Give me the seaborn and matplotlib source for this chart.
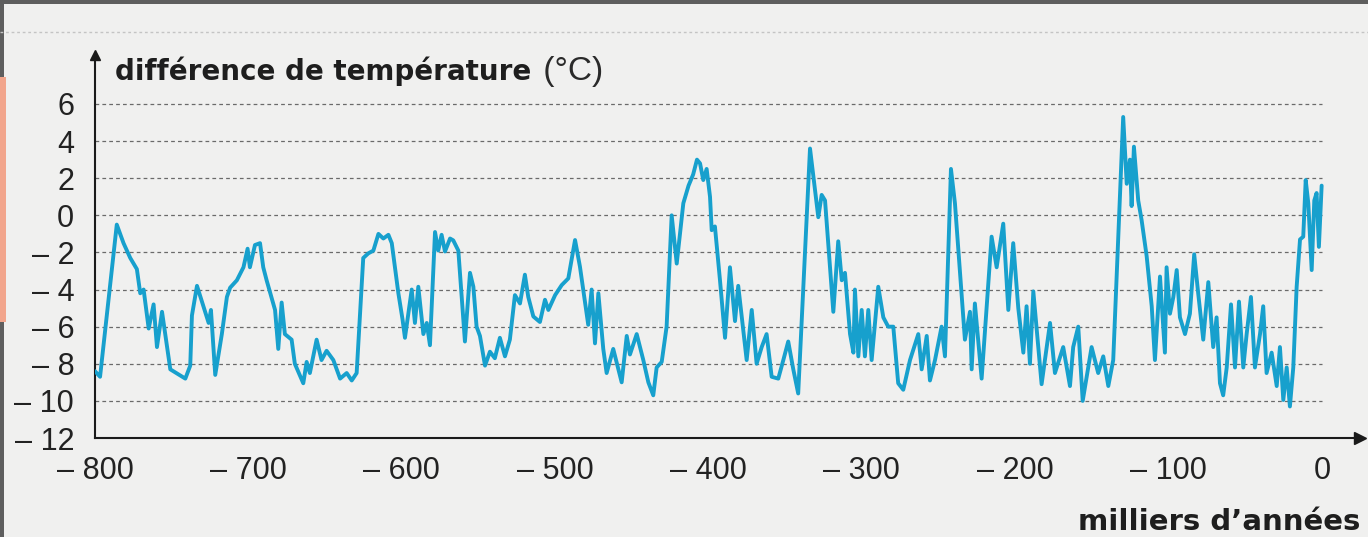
import numpy as np
import pandas as pd
import matplotlib
matplotlib.use("Agg")
import matplotlib.pyplot as plt
import seaborn as sns
from matplotlib.patches import Rectangle
from matplotlib.lines import Line2D

# ---- data ----
years = [-800, -796.7, -785.8, -781.4, -777, -772.7, -770.5, -768.3, -765, -761.8, -759.6, -756.3,
         -750.9, -741.1, -737.9, -736.8, -733.5, -725.9, -724.4, -721.6, -717.3, -714, -711.9,
         -707.5, -703.2, -700.5, -699, -695.7, -692.4, -690.3, -688.1, -682.6, -680.5, -678.3,
         -676.2, -671.8, -669.7, -664.2, -662, -659.9, -655.5, -652.3, -649, -644.6, -640.2,
         -635.9, -632.6, -629.4, -625.1, -621.8, -618.5, -615.2, -612, -608.7, -606.5, -602.2,
         -599.5, -597.9, -593.5, -591.4, -589.2, -585.9, -583.7, -581.6, -578.3, -576.2, -574,
         -571.8, -568.5, -566.4, -563.1, -558.8, -555.5, -553.3, -551.2, -549, -545.7, -542.5,
         -539.3, -536, -532.7, -529.5, -526.2, -522.9, -519.7, -517.5, -514.2, -509.9, -506.6,
         -504.4, -500, -495.7, -491.4, -487, -483.8, -478.4, -476.2, -474, -471.8, -468.6,
         -466.4, -462.1, -456.6, -453.3, -451.2, -446.8, -442.5, -439.2, -436, -433.8, -430.5,
         -427.3, -424, -420.7, -416.4, -413, -410, -407.5, -405.5, -403.4, -401.2, -399, -397.9,
         -395.8, -392.5, -389.2, -386, -382.7, -380.6, -377.3, -375.1, -371.8, -368.6, -365.3,
         -362.1, -358.8, -354.5, -351.2, -348, -344.7, -341.5, -333.8, -330.6, -328.4, -326.2,
         -324, -318.6, -315.4, -313.1, -311, -307.7, -305.5, -304.5, -302.3, -300.1, -298,
         -295.8, -293.6, -289.3, -286, -282.8, -279.5, -276.3, -273, -268.6, -263.2, -261,
         -257.7, -255.6, -252.3, -248, -245.8, -241.9, -239.3, -232.8, -229.5, -228.4, -226.3,
         -221.9, -215.4, -212.1, -207.8, -204.5, -201.3, -198, -194.7, -192.6, -190.4, -188.2,
         -182.8, -177.3, -174.1, -168.7, -164.3, -162.2, -158.9, -156, -150.2, -145.9, -142.6,
         -139.3, -136.1, -129.6, -127.3, -125.2, -124.1, -122.6, -119.8, -117.6, -114.3, -111,
         -108.9, -105.6, -102.4, -101.3, -99.1, -96.9, -94.7, -92.6, -89.3, -86.1, -83.3, -80.7,
         -77.4, -74.1, -70.9, -68.7, -66.5, -64.4, -62.1, -59.3, -56.7, -54.1, -51.3, -49.1,
         -46.3, -43.7, -40.4, -38.3, -36.1, -32.8, -29.5, -27.4, -25.2, -23, -20.9, -18.7,
         -16.5, -14.3, -12.2, -10.6, -8.9, -6.7, -5, -3.5, -2, -0.2]
temps = [-8.4, -8.7, -0.5, -1.5, -2.3, -2.9, -4.2, -4.0, -6.1, -4.8, -7.1, -5.2,
         -8.3, -8.8, -8.1, -5.4, -3.8, -5.8, -5.1, -8.6, -6.4, -4.4, -3.9,
         -3.5, -2.8, -1.8, -2.8, -1.6, -1.5, -2.8, -3.5, -5.1, -7.2, -4.7,
         -6.4, -6.7, -8.0, -9.05, -7.9, -8.5, -6.7, -7.8, -7.3, -7.8, -8.8,
         -8.5, -8.9, -8.5, -2.3, -2.05, -1.9, -1.0, -1.25, -1.05, -1.5, -4.2,
         -5.6, -6.6, -4.0, -5.8, -3.85, -6.4, -5.8, -7.0, -0.9, -1.9, -1.05,
         -1.95, -1.25, -1.35, -1.9, -6.8, -3.1, -3.85, -6.0, -6.5, -8.1, -7.35,
         -7.7, -6.6, -7.6, -6.7, -4.3, -4.75, -3.2, -4.4, -5.45, -5.75, -4.55,
         -5.1, -4.3, -3.76, -3.4, -1.33, -2.77, -5.9, -4.0, -6.9, -4.2, -7.2,
         -8.5, -7.2, -9.0, -6.5, -7.5, -6.4, -7.8, -9.0, -9.7, -8.2, -7.9,
         -6.0, 0.0, -2.6, 0.65, 1.6, 2.2, 3.0, 2.8, 1.9, 2.5, 1.0, -0.8,
         -0.6, -3.5, -6.6, -2.8, -5.7, -3.8, -6.2, -7.8, -5.1, -8.0, -7.1,
         -6.4, -8.7, -8.8, -7.8, -6.8, -8.3, -9.6, 3.6, 1.4, -0.1, 1.1,
         0.8, -5.2, -1.4, -3.5, -3.1, -6.4, -7.4, -4.0, -7.6, -5.1, -7.6,
         -5.1, -7.8, -3.85, -5.5, -6.0, -6.0, -9.05, -9.4, -7.8, -6.4, -8.3,
         -6.5, -8.9, -7.8, -6.0, -7.6, 2.5, 0.65, -6.7, -5.2, -8.3, -4.75,
         -8.8, -1.15, -2.8, -0.45, -5.1, -1.5, -5.0, -7.4, -4.9, -8.0, -4.1,
         -9.1, -5.8, -8.5, -7.1, -9.2, -7.1, -6.0, -10.0, -7.1, -8.5, -7.6,
         -9.2, -7.8, 5.3, 1.7, 3.0, 0.5, 3.7, 0.8, -0.25, -2.2, -4.9,
         -7.8, -3.3, -7.4, -2.8, -5.3, -4.4, -2.95, -5.5, -6.4, -5.3, -2.1, -4.2,
         -6.7, -3.6, -7.1, -5.5, -9.05, -9.7, -8.2, -4.8, -8.2, -4.65, -8.2, -6.4,
         -4.4, -8.2, -6.4, -4.9, -8.5, -7.4, -9.2, -7.1, -9.95, -8.2, -10.3, -8.2,
         -3.85, -1.3, -1.15, 1.9, 0.65, -2.95, 0.8, 1.2, -1.7, 1.6]

y_ticks = [-12, -10, -8, -6, -4, -2, 0, 2, 4, 6]
y_tick_labels = ["\u2013 12", "\u2013 10", "\u2013 8", "\u2013 6", "\u2013 4", "\u2013 2", "0", "2", "4", "6"]
x_ticks = [-800, -700, -600, -500, -400, -300, -200, -100, 0]
x_tick_labels = ["\u2013 800", "\u2013 700", "\u2013 600", "\u2013 500", "\u2013 400",
                 "\u2013 300", "\u2013 200", "\u2013 100", "0"]
y_title = "différence de température"
y_unit = " (°C)"
x_title = "milliers d\u2019années"

# ---- style ----
BG = "#f0f0ef"
LINE = "#17a0cd"
W, H = 1368, 537

sns.set_theme(style="white")
plt.rcParams['font.family'] = ['Liberation Sans', 'DejaVu Sans']

fig = plt.figure(figsize=(W / 100, H / 100), dpi=100, facecolor=BG)
ax = fig.add_axes([95 / W, 99 / H, 1265.3 / W, 383 / H])
ax.set_facecolor("none")
ax.set_xlim(-800, 25)
ax.set_ylim(-12, 8.64)

# dashed horizontal guides
for yv in y_ticks[1:]:
    ax.hlines(yv, -800, 0, colors="#6a6a6a", linewidth=0.9, linestyles=(0, (3, 2.5)), zorder=1)

df = pd.DataFrame({"year": years, "temp": temps})
sns.lineplot(data=df, x="year", y="temp", ax=ax, color=LINE, linewidth=2.8,
             sort=False, estimator=None, zorder=3)
ax.set_xlabel("")
ax.set_ylabel("")

for s in ["top", "right"]:
    ax.spines[s].set_visible(False)
for s in ["left", "bottom"]:
    ax.spines[s].set_color("#1a1a1a")
    ax.spines[s].set_linewidth(1.5)

ax.set_yticks(y_ticks)
ax.set_yticklabels(y_tick_labels)
ax.set_xticks(x_ticks)
ax.set_xticklabels(x_tick_labels)
ax.tick_params(axis="y", direction="out", length=11, width=1.5, color="#1a1a1a",
               labelsize=22, pad=4, labelcolor="#222222")
ax.tick_params(axis="x", direction="out", length=9, width=1.5, color="#1a1a1a",
               labelsize=22, pad=4, labelcolor="#222222")

# axis arrows
ax.plot(1, -12, marker=">", color="#1a1a1a", markersize=9, transform=ax.get_yaxis_transform(),
        clip_on=False, zorder=5)
ax.plot(-800, 1, marker="^", color="#1a1a1a", markersize=7, transform=ax.get_xaxis_transform(),
        clip_on=False, zorder=5)

# titles
TITLE_FONT = ['DejaVu Sans']
t1 = fig.text(115 / W, (H - 80) / H, y_title, fontsize=20, fontweight="bold", color="#1e1e1e",
              ha="left", va="baseline", family=TITLE_FONT)
ax.annotate(y_unit, xy=(1, 0), xycoords=t1, xytext=(2, -1), textcoords="offset points",
            fontsize=24, color="#2a2a2a", ha="left", va="bottom",
            annotation_clip=False, family=['Liberation Sans', 'DejaVu Sans'])
fig.text(1360 / W, (H - 530) / H, x_title, fontsize=21, fontweight="bold", color="#1e1e1e",
         ha="right", va="baseline", family=TITLE_FONT)

# page decorations: scan border, top dotted rule, salmon edge
fig.add_artist(Line2D([0, 1], [(H - 32) / H] * 2, transform=fig.transFigure, color="#c4c4c4",
                      linewidth=1.0, linestyle=(0, (2, 2))))
fig.add_artist(Rectangle((0, 1 - 4 / H), 1, 4 / H, transform=fig.transFigure, color="#5e5e5e", lw=0))
fig.add_artist(Rectangle((0, 0), 4 / W, 1, transform=fig.transFigure, color="#5e5e5e", lw=0))
fig.add_artist(Rectangle((0, (H - 322) / H), 6 / W, 245 / H, transform=fig.transFigure,
                         color="#f2a58c", lw=0))

fig.savefig("out.png", dpi=100, facecolor=BG)
